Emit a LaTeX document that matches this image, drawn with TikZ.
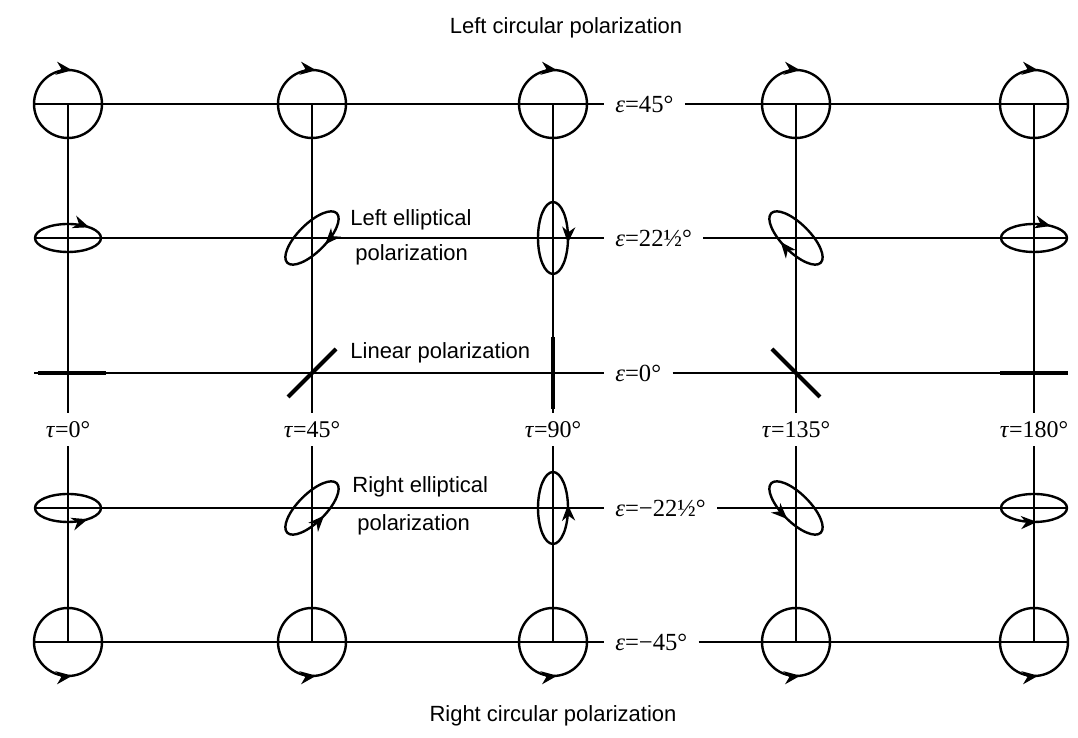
\documentclass[tikz,border=0pt]{standalone}
\usepackage{fontspec}
\setmainfont{Liberation Serif}
\setsansfont{Liberation Sans}
\usetikzlibrary{arrows.meta,decorations.markings}

\tikzset{
  axis/.style={line width=0.7pt},
  pol/.style={line width=1.2pt},
  linpol/.style={line width=2pt},
  leftpol/.style={pol,postaction={decorate},decoration={markings,
      mark=at position #1 with {\arrowreversed{Stealth[length=8pt,width=6.5pt,inset=2.5pt]}}}},
  rightpol/.style={pol,postaction={decorate},decoration={markings,
      mark=at position #1 with {\arrow{Stealth[length=8pt,width=6.5pt,inset=2.5pt]}}}},
  eps/.style={anchor=west,inner xsep=5.5pt,font=\fontsize{12.3}{14}\selectfont},
  tau/.style={inner xsep=0pt,inner ysep=4pt,font=\fontsize{12}{14}\selectfont},
  caption/.style={font=\sffamily\fontsize{11}{13}\selectfont,inner sep=0pt}
}

\begin{document}
\begin{tikzpicture}[x=0.5pt,y=0.5pt]
  \useasboundingbox (0,0) rectangle (1078,738);

  % grid points, row and column
  \coordinate (11) at (68,634);  \coordinate (12) at (312,634); \coordinate (13) at (553,634);
  \coordinate (14) at (796,634); \coordinate (15) at (1034,634);
  \coordinate (21) at (68,500);  \coordinate (22) at (312,500); \coordinate (23) at (553,500);
  \coordinate (24) at (796,500); \coordinate (25) at (1034,500);
  \coordinate (31) at (68,365);  \coordinate (32) at (312,365); \coordinate (33) at (553,365);
  \coordinate (34) at (796,365); \coordinate (35) at (1034,365);
  \coordinate (41) at (68,230);  \coordinate (42) at (312,230); \coordinate (43) at (553,230);
  \coordinate (44) at (796,230); \coordinate (45) at (1034,230);
  \coordinate (51) at (68,96);   \coordinate (52) at (312,96);  \coordinate (53) at (553,96);
  \coordinate (54) at (796,96);  \coordinate (55) at (1034,96);

  % ends of the rows
  \coordinate (l1) at (34,634);  \coordinate (r1) at (1068,634);
  \coordinate (l2) at (34,500);  \coordinate (r2) at (1068,500);
  \coordinate (l3) at (34,365);  \coordinate (r3) at (1068,365);
  \coordinate (l4) at (34,230);  \coordinate (r4) at (1068,230);
  \coordinate (l5) at (34,96);   \coordinate (r5) at (1068,96);

  % labels
  \node[eps] (e1) at (604,634) {\textit{ε}=45°};
  \node[eps] (e2) at (604,500) {\textit{ε}=22½°};
  \node[eps] (e3) at (604,365) {\textit{ε}=0°};
  \node[eps] (e4) at (604,230) {\textit{ε}=−22½°};
  \node[eps] (e5) at (604,96)  {\textit{ε}=−45°};

  \node[tau] (t1) at (68,308)   {\textit{τ}=0°};
  \node[tau] (t2) at (312,308)  {\textit{τ}=45°};
  \node[tau] (t3) at (553,308)  {\textit{τ}=90°};
  \node[tau] (t4) at (796,308)  {\textit{τ}=135°};
  \node[tau] (t5) at (1034,308) {\textit{τ}=180°};

  \node[caption] (lcp) at (566,710) {Left circular polarization};
  \node[caption] (rcp) at (553,22)  {Right circular polarization};
  \node[caption,anchor=west] (lep1) at (350,518) {Left elliptical};
  \node[caption,anchor=west] (lep2) at (355,483) {polarization};
  \node[caption,anchor=west] (lin)  at (350,385) {Linear polarization};
  \node[caption,anchor=west] (rep1) at (352,251) {Right elliptical};
  \node[caption,anchor=west] (rep2) at (357,213) {polarization};

  % grid
  \draw[axis] (l1) -- (e1.west); \draw[axis] (e1.east) -- (r1);
  \draw[axis] (l2) -- (e2.west); \draw[axis] (e2.east) -- (r2);
  \draw[axis] (l3) -- (e3.west); \draw[axis] (e3.east) -- (r3);
  \draw[axis] (l4) -- (e4.west); \draw[axis] (e4.east) -- (r4);
  \draw[axis] (l5) -- (e5.west); \draw[axis] (e5.east) -- (r5);

  \draw[axis] (11) -- (t1.north); \draw[axis] (t1.south) -- (51);
  \draw[axis] (12) -- (t2.north); \draw[axis] (t2.south) -- (52);
  \draw[axis] (13) -- (t3.north); \draw[axis] (t3.south) -- (53);
  \draw[axis] (14) -- (t4.north); \draw[axis] (t4.south) -- (54);
  \draw[axis] (15) -- (t5.north); \draw[axis] (t5.south) -- (55);

  % left circular
  \draw[leftpol=0.23] (11) circle [radius=34];
  \draw[leftpol=0.23] (12) circle [radius=34];
  \draw[leftpol=0.23] (13) circle [radius=34];
  \draw[leftpol=0.23] (14) circle [radius=34];
  \draw[leftpol=0.23] (15) circle [radius=34];

  % left elliptical
  \draw[leftpol=0.11] (21) ellipse [x radius=33, y radius=14];
  \draw[leftpol=0.78,rotate around={45:(22)}] (22) ellipse [x radius=35, y radius=14];
  \draw[leftpol=0.97] (23) ellipse [x radius=15, y radius=36];
  \draw[leftpol=0.20,rotate around={135:(24)}] (24) ellipse [x radius=35, y radius=14];
  \draw[leftpol=0.14] (25) ellipse [x radius=33, y radius=14];

  % linear
  \draw[linpol] (31) ++(-30,0) -- ++(68,0);
  \draw[linpol] (32) ++(-24,-24) -- ++(48,48);
  \draw[linpol] (33) ++(0,-36) -- ++(0,72);
  \draw[linpol] (34) ++(-24,24) -- ++(48,-48);
  \draw[linpol] (35) ++(-34,0) -- ++(68,0);

  % right elliptical
  \draw[rightpol=0.88] (41) ellipse [x radius=33, y radius=14];
  \draw[rightpol=0.77,rotate around={45:(42)}] (42) ellipse [x radius=35, y radius=14];
  \draw[rightpol=0.02] (43) ellipse [x radius=15, y radius=36];
  \draw[rightpol=0.26,rotate around={135:(44)}] (44) ellipse [x radius=35, y radius=14];
  \draw[rightpol=0.77] (45) ellipse [x radius=33, y radius=14];

  % right circular
  \draw[rightpol=0.77] (51) circle [radius=34];
  \draw[rightpol=0.77] (52) circle [radius=34];
  \draw[rightpol=0.77] (53) circle [radius=34];
  \draw[rightpol=0.77] (54) circle [radius=34];
  \draw[rightpol=0.77] (55) circle [radius=34];
\end{tikzpicture}
\end{document}
